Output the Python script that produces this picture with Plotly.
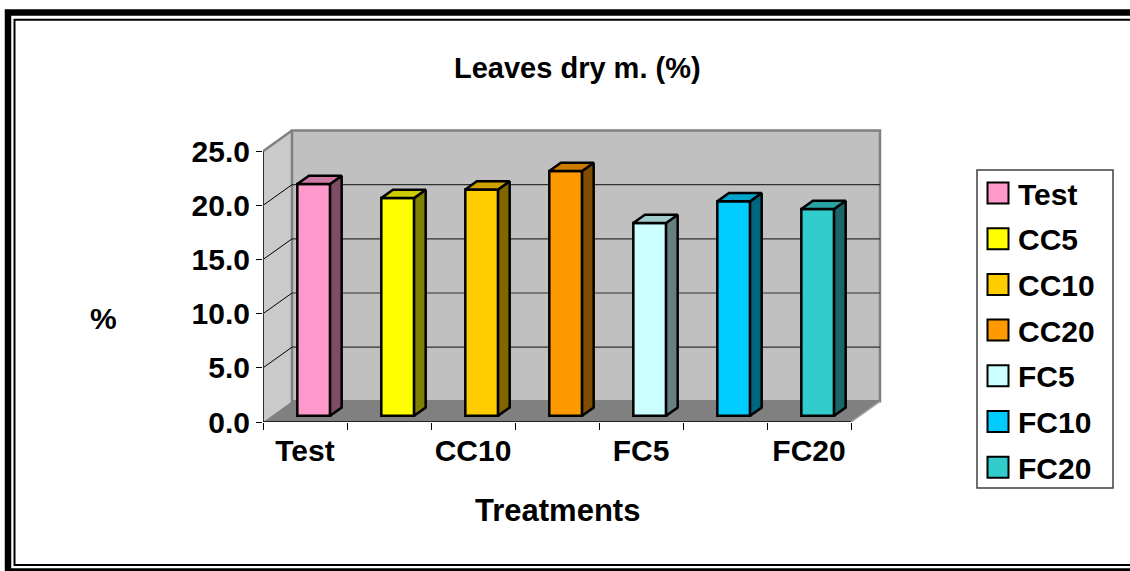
import plotly.graph_objects as go

# ---------------- data ----------------
categories = ["Test", "CC5", "CC10", "CC20", "FC5", "FC10", "FC20"]
values = [21.4, 20.1, 20.9, 22.6, 17.8, 19.8, 19.1]
front_colors = ["#FF99CC", "#FFFF00", "#FFCC00", "#FF9900", "#CCFFFF", "#00CCFF", "#33CCCC"]
top_colors = ["#CC7AA3", "#CCCC00", "#CCA300", "#CC7A00", "#A3CCCC", "#00A3CC", "#29A3A3"]
side_colors = ["#804C66", "#808000", "#806600", "#804C00", "#668080", "#006680", "#1A6666"]
y_ticks = [0, 5, 10, 15, 20, 25]
y_tick_labels = ["0.0", "5.0", "10.0", "15.0", "20.0", "25.0"]
x_label_positions = [0, 2, 4, 6]
title_text = "Leaves dry m. (%)"
x_title = "Treatments"
y_title = "%"

# ---------------- geometry / style ----------------
FIG_W, FIG_H = 1130, 571
L, R, T, B = 263, 242, 120, 149
PW = FIG_W - L - R
PH = FIG_H - T - B
XS = 84.0      # px per category
YS = 10.83     # px per value unit
XMAX = PW / XS
YMAX = PH / YS
DX = 29 / XS   # depth offset in x units
DY = 20.7 / YS # depth offset in y units
F0, F1 = 0.3, 0.7
BW = 0.39
N = len(categories)
FONT = "Liberation Sans, Arial, sans-serif"
FS = 30


def px(x):
    return (x - L) / PW


def py(y):
    return 1 - (y - T) / PH


shapes = []
# side wall
shapes.append(dict(type="path", xref="x", yref="y", layer="below",
                   path=f"M0,0 L0,25 L{DX},{25+DY} L{DX},{DY} Z",
                   fillcolor="#CACACA", line=dict(width=0)))
# floor
shapes.append(dict(type="path", xref="x", yref="y", layer="below",
                   path=f"M0,0 L{N},0 L{N+DX},{DY} L{DX},{DY} Z",
                   fillcolor="#808080", line=dict(width=0)))
# back wall
shapes.append(dict(type="rect", xref="x", yref="y", layer="below",
                   x0=DX, x1=N + DX, y0=DY, y1=25 + DY,
                   fillcolor="#C0C0C0", line=dict(color="#808080", width=2.5)))
# gridlines
for k in y_ticks[1:-1]:
    shapes.append(dict(type="line", xref="x", yref="y", layer="below",
                       x0=DX, x1=N + DX, y0=k + DY, y1=k + DY,
                       line=dict(color="#303030", width=1.2)))
    shapes.append(dict(type="line", xref="x", yref="y", layer="below",
                       x0=0, x1=DX, y0=k, y1=k + DY,
                       line=dict(color="#000000", width=1)))
# side wall top edge
shapes.append(dict(type="line", xref="x", yref="y", layer="below",
                   x0=0, x1=DX, y0=25, y1=25 + DY,
                   line=dict(color="#808080", width=2.5)))
# y axis line
shapes.append(dict(type="line", xref="x", yref="y", layer="below",
                   x0=0, x1=0, y0=0, y1=25,
                   line=dict(color="#303030", width=2)))
# floor front edge
shapes.append(dict(type="line", xref="x", yref="y", layer="below",
                   x0=0, x1=N, y0=0, y1=0,
                   line=dict(color="#000000", width=1.5)))
# floor right edge
shapes.append(dict(type="line", xref="x", yref="y", layer="below",
                   x0=N, x1=N + DX, y0=0, y1=DY,
                   line=dict(color="#A0A0A0", width=1.5)))

# outer frame
shapes.append(dict(type="rect", xref="paper", yref="paper",
                   x0=px(8), x1=px(1145), y0=py(12.5), y1=py(571.5),
                   line=dict(color="black", width=6.5)))
shapes.append(dict(type="rect", xref="paper", yref="paper",
                   x0=px(14.5), x1=px(1140), y0=py(19.7), y1=py(565),
                   line=dict(color="black", width=2)))

# legend box
shapes.append(dict(type="rect", xref="paper", yref="paper",
                   x0=px(977), x1=px(1113), y0=py(170), y1=py(488),
                   fillcolor="white", line=dict(color="#404040", width=1.5)))

annotations = []
LEG_Y0, LEG_STEP = 193, 45.7
for i, (name, col) in enumerate(zip(categories, front_colors)):
    cy = LEG_Y0 + i * LEG_STEP
    shapes.append(dict(type="rect", xref="paper", yref="paper",
                       x0=px(987.5), x1=px(1008.5), y0=py(cy - 10.5), y1=py(cy + 10.5),
                       fillcolor=col, line=dict(color="black", width=2)))
    annotations.append(dict(xref="paper", yref="paper", x=px(1016), y=py(cy + 1),
                            xanchor="left", yanchor="middle", showarrow=False,
                            text=name, font=dict(family=FONT, size=FS, color="black", weight="bold")))

annotations.append(dict(xref="paper", yref="paper", x=px(577.5), y=py(68),
                        xanchor="center", yanchor="middle", showarrow=False,
                        text=title_text, font=dict(family=FONT, size=29, color="black", weight="bold")))
annotations.append(dict(xref="paper", yref="paper", x=px(103), y=py(318),
                        xanchor="center", yanchor="middle", showarrow=False,
                        text=y_title, font=dict(family=FONT, size=FS, color="black", weight="bold")))
annotations.append(dict(xref="paper", yref="paper", x=px(557), y=py(510),
                        xanchor="center", yanchor="middle", showarrow=False,
                        text=x_title, font=dict(family=FONT, size=31, color="black", weight="bold")))

fig = go.Figure()

xc = [i + 0.5 + F0 * DX for i in range(N)]
base = F0 * DY
d = F1 - F0

# side and top faces
for i, v in enumerate(values):
    xl = xc[i] - BW / 2
    xr = xc[i] + BW / 2
    yt = base + v
    fig.add_trace(go.Scatter(
        x=[xr, xr, xr + d * DX, xr + d * DX, xr],
        y=[base, yt, yt + d * DY, base + d * DY, base],
        mode="lines", fill="toself", fillcolor=side_colors[i],
        line=dict(color="black", width=2.5), showlegend=False, hoverinfo="skip"))
    fig.add_trace(go.Scatter(
        x=[xl, xr, xr + d * DX, xl + d * DX, xl],
        y=[yt, yt, yt + d * DY, yt + d * DY, yt],
        mode="lines", fill="toself", fillcolor=top_colors[i],
        line=dict(color="black", width=2.5), showlegend=False, hoverinfo="skip"))

# front faces
fig.add_trace(go.Bar(
    x=xc, y=values, base=base, width=BW,
    marker=dict(color=front_colors, line=dict(color="black", width=2.5)),
    showlegend=False, hoverinfo="skip"))

fig.update_layout(
    width=FIG_W, height=FIG_H,
    margin=dict(l=L, r=R, t=T, b=B, pad=0),
    paper_bgcolor="white", plot_bgcolor="rgba(0,0,0,0)",
    showlegend=False,
    shapes=shapes, annotations=annotations,
    xaxis=dict(range=[0, XMAX], tickmode="array",
               tickvals=[p + 0.5 for p in x_label_positions],
               ticktext=[categories[p] for p in x_label_positions],
               ticks="", showgrid=False, zeroline=False, showline=False,
               automargin=False, ticklabelstandoff=8,
               tickfont=dict(family=FONT, size=FS, color="black", weight="bold"),
               minor=dict(tickmode="array", tickvals=list(range(N + 1)), ticks="outside",
                          ticklen=7, tickwidth=1, tickcolor="black", showgrid=False)),
    yaxis=dict(range=[0, YMAX], tickmode="array", tickvals=y_ticks, ticktext=y_tick_labels,
               ticks="outside", ticklen=6, tickwidth=1, tickcolor="black",
               showgrid=False, zeroline=False, showline=False, automargin=False,
               tickfont=dict(family=FONT, size=FS, color="black", weight="bold")),
)

fig.write_html("out.html", config={"displayModeBar": False},
               post_script="document.body.style.margin='0px';document.body.style.overflow='hidden';")
